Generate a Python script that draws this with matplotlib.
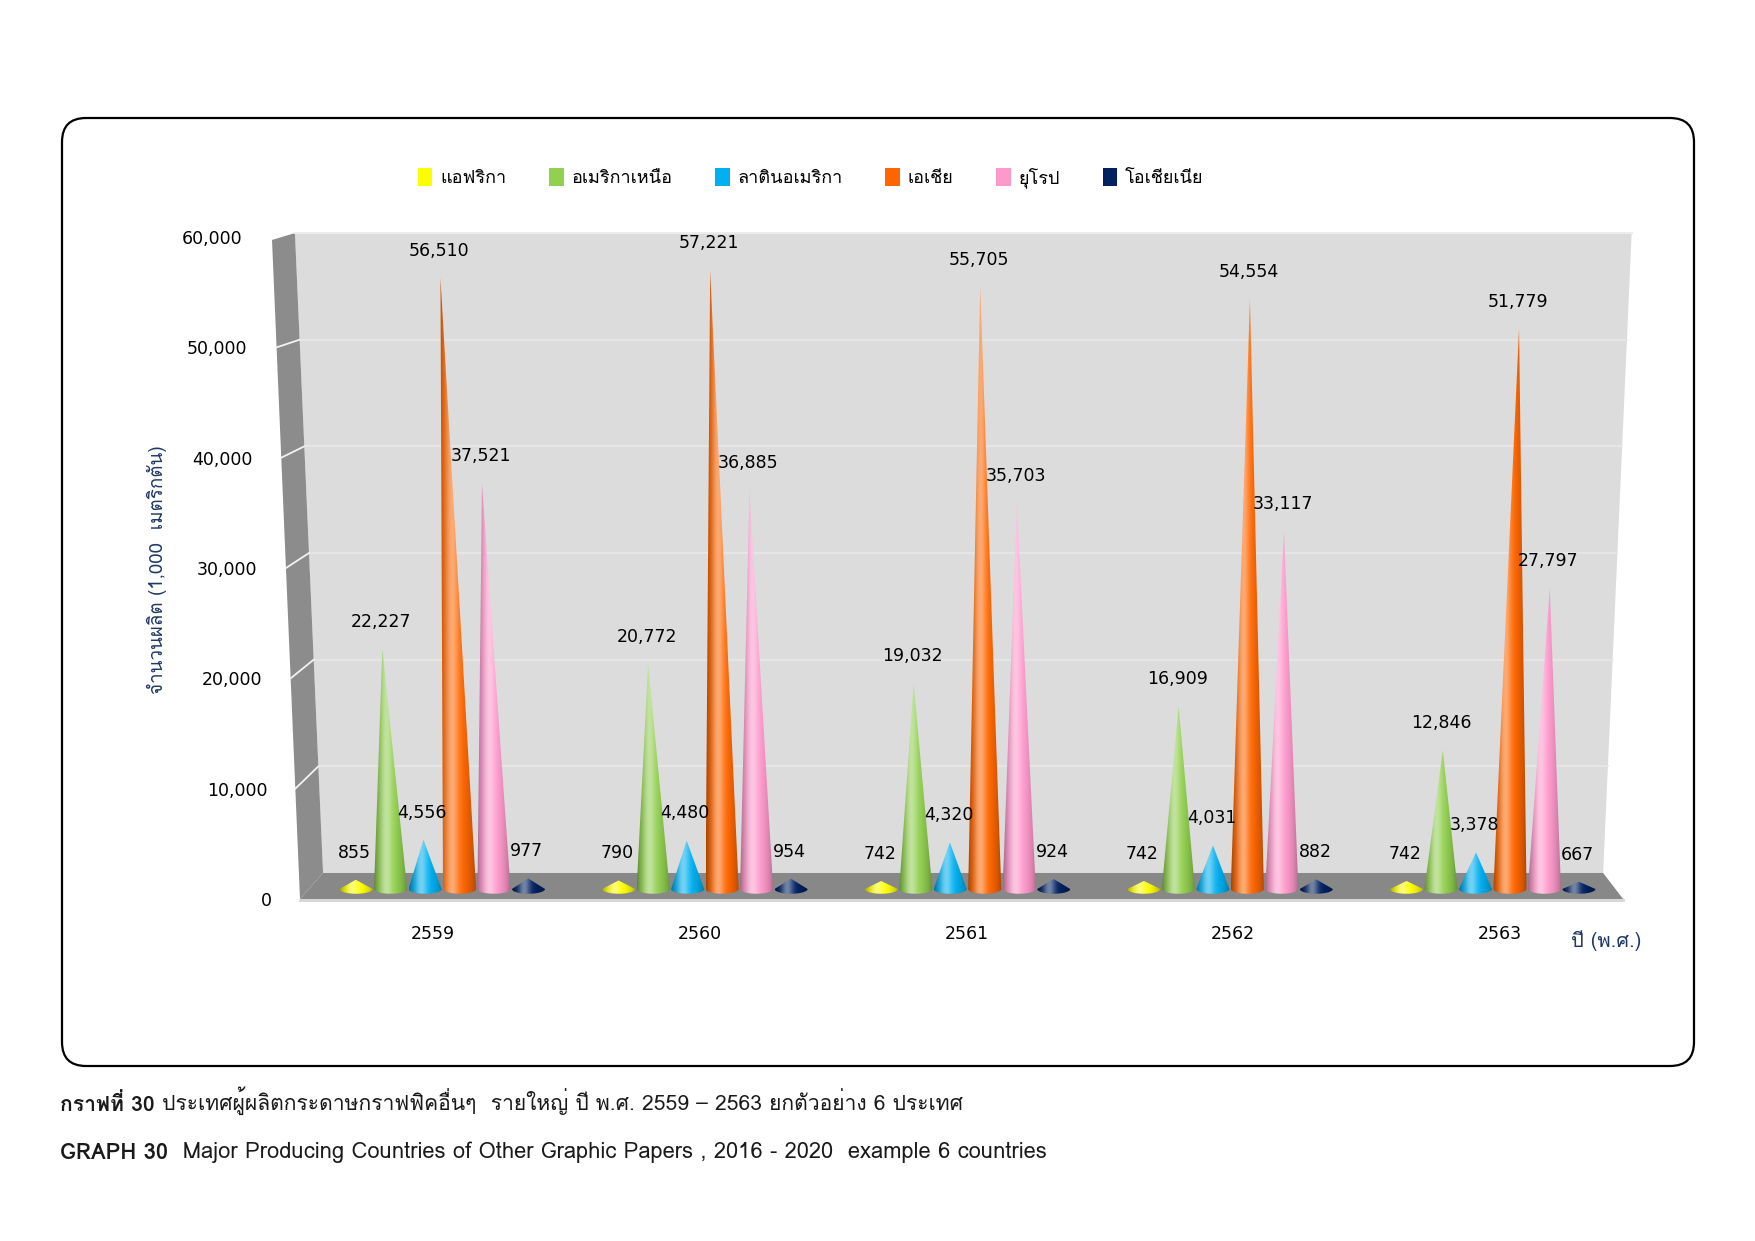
import numpy as np
import matplotlib
matplotlib.use("Agg")
import matplotlib.pyplot as plt
from matplotlib import font_manager as fm
from matplotlib import ft2font
from matplotlib.colors import to_rgb
from matplotlib.patches import Polygon, FancyBboxPatch, Patch
from matplotlib.transforms import ScaledTranslation

# data (1,000 metric tons)
years = ["2559", "2560", "2561", "2562", "2563"]
regions = ["แอฟริกา", "อเมริกาเหนือ", "ลาตินอเมริกา", "เอเชีย", "ยุโรป", "โอเชียเนีย"]
africa = [855, 790, 742, 742, 742]
north_america = [22227, 20772, 19032, 16909, 12846]
latin_america = [4556, 4480, 4320, 4031, 3378]
asia = [56510, 57221, 55705, 54554, 51779]
europe = [37521, 36885, 35703, 33117, 27797]
oceania = [977, 954, 924, 882, 667]
series = [africa, north_america, latin_america, asia, europe, oceania]
colors = ["#ffff00", "#92d050", "#00b0f0", "#ff6600", "#ff99cc", "#002060"]
y_ticks = [0, 10000, 20000, 30000, 40000, 50000, 60000]

NAVY = "#1f3864"


def thai_family():
    seen = set()
    for f in fm.fontManager.ttflist:
        if f.name in seen:
            continue
        seen.add(f.name)
        try:
            cmap = ft2font.FT2Font(f.fname).get_charmap()
        except Exception:
            continue
        if 0x0E01 in cmap and 0x0E40 in cmap and 0x0E49 in cmap:
            return f.name
    return None


THAI = thai_family()
FAM = [THAI, "DejaVu Sans"] if THAI else ["DejaVu Sans"]
plt.rcParams["font.family"] = ["DejaVu Sans"]

W, H = 1755, 1241
fig = plt.figure(figsize=(W / 100, H / 100), dpi=100)

# background axes in pixel units for the frame box and captions
bg = fig.add_axes([0, 0, 1, 1], zorder=0)
bg.set_xlim(0, W)
bg.set_ylim(H, 0)
bg.axis("off")
bg.add_patch(FancyBboxPatch((62, 118), 1632, 948,
                            boxstyle="round,pad=0,rounding_size=24",
                            facecolor="white", edgecolor="black", linewidth=1.6))

# main chart axes: front plane of the 3D box
ax = fig.add_axes([300 / W, 1 - 899 / H, 1333 / W, 662 / H], zorder=1)
ax.set_facecolor("none")
for s in ax.spines.values():
    s.set_visible(False)

# 3D walls (axes fractions)
fb = 0.0393          # back floor line
ft = 1.006           # top of back wall
xbl, xtl = 0.0173, -0.0038    # back-left edge, bottom / top
xbr, xtr = 0.9776, 0.999      # back-right edge, bottom / top
side = [(-0.021, 0.9955), (xtl, ft), (xbl, fb), (0, 0)]
floor = [(0, 0), (xbl, fb), (xbr, fb), (0.9926, 0)]
back = [(xtl, ft), (xtr, ft), (xbr, fb), (xbl, fb)]
ax.add_patch(Polygon(back, closed=True, transform=ax.transAxes, facecolor="#dcdcdc",
                     edgecolor="none", clip_on=False, zorder=0))
ax.add_patch(Polygon(side, closed=True, transform=ax.transAxes, facecolor="#8c8c8c",
                     edgecolor="none", clip_on=False, zorder=0.5))
ax.add_patch(Polygon(floor, closed=True, transform=ax.transAxes, facecolor="#888888",
                     edgecolor="none", clip_on=False, zorder=0.5))
ax.plot([0, 0.9926], [-0.002, -0.002], transform=ax.transAxes, color="#d4d4d4",
        lw=2, clip_on=False, zorder=0.6)
ax.plot([xtl, xtr], [ft, ft], transform=ax.transAxes, color="#ececec",
        lw=1.5, clip_on=False, zorder=0.6)

for v in y_ticks[1:-1]:
    r = v / 60000
    fyb = fb + r * (ft - fb)
    xl = xbl + r * (xtl - xbl)
    xr = xbr + r * (xtr - xbr)
    ax.plot([xl, xr], [fyb, fyb], transform=ax.transAxes, color="#e8e8e8",
            lw=1.2, clip_on=False, zorder=0.2)
    ax.plot([-0.021 * r, xl], [r, fyb], transform=ax.transAxes, color="#f2f2f2",
            lw=1.3, clip_on=False, zorder=0.7)


def cone_image(color, n=80):
    rgb = np.array(to_rgb(color))
    t = np.linspace(0, 1, n)
    light = np.exp(-((t - 0.36) / 0.18) ** 2)
    dark = 0.62 + 0.38 * np.sin(np.pi * t) ** 0.6
    col = rgb[None, :] * dark[:, None]
    col = col + (1 - col) * 0.45 * light[:, None]
    return np.clip(col, 0, 1)[None, :, :]


BASE = 906        # cone bases sit slightly behind the front edge
DEPTH_Y = 0.98
CONE_W = 0.124
ELL_H = 430
STEP = 0.1313
XC0 = 2.25        # horizontal perspective centre
XV = 2.69         # tips lean away from this x
LEAN = 0.0293


def draw_cone(xc, value, color, z):
    y0 = BASE
    y1 = BASE + value * DEPTH_Y
    xt = xc + (xc - XV) * LEAN * value / 60000
    hw = CONE_W / 2
    th = np.linspace(0, np.pi, 40)
    verts = [(xc - hw, y0), (xt, y1), (xc + hw, y0)]
    verts += list(zip(xc + hw * np.cos(th), y0 - ELL_H * np.sin(th)))
    poly = Polygon(verts, closed=True, transform=ax.transData)
    x_lo = min(xc - hw, xt - 0.01)
    x_hi = max(xc + hw, xt + 0.01)
    im = ax.imshow(cone_image(color), extent=[x_lo, x_hi, y0 - ELL_H, y1],
                   aspect="auto", interpolation="bicubic", zorder=z)
    im.set_clip_path(poly)
    return xt, y1


for i, (vals, col) in enumerate(zip(series, colors)):
    for j, v in enumerate(vals):
        x = j + (i - 2.5) * STEP
        x = XC0 + (x - XC0) * 0.985
        tip = draw_cone(x, v, col, 2 + i * 0.01)
        ax.annotate(f"{v:,}", tip, xytext=(-1, 19.5), textcoords="offset points",
                    ha="center", va="center", fontsize=12.5, color="black", zorder=5)

ax.set_xlim(-0.5, 4.5)
ax.set_ylim(0, 60000)
ax.set_xticks(range(len(years)), years)
ax.set_yticks(y_ticks, [f"{v:,}" for v in y_ticks])
ax.tick_params(axis="x", length=0, pad=19, labelsize=12.5)
ax.tick_params(axis="y", length=0, pad=20, labelsize=12.5)
for v, tick in zip(y_ticks, ax.yaxis.get_major_ticks()):
    off = ScaledTranslation(-v / 10000 * 0.05, 0, fig.dpi_scale_trans)
    tick.label1.set_transform(tick.label1.get_transform() + off)

# axis titles
bg.text(157, 570, "จำนวนผลิต (1,000  เมตริกตัน)", rotation=90, ha="center", va="center",
        fontsize=13.5, color=NAVY, family=FAM)
bg.text(1606, 941, "ปี (พ.ศ.)", ha="center", va="center", fontsize=14.5,
        color=NAVY, family=FAM)

# legend
handles = [Patch(facecolor=c, edgecolor="none") for c in colors]
fig.legend(handles, regions, loc="center", bbox_to_anchor=(0.462, 0.857), ncol=6,
           frameon=False, prop={"family": FAM, "size": 13}, handlelength=0.8,
           handleheight=1.15, handletextpad=0.45, columnspacing=2.35)

# captions
CAP = "#1a1a1a"
t1 = bg.text(60, 1104, "กราฟที่ 30", fontweight="bold", va="center", ha="left",
             fontsize=15.2, family=FAM, color=CAP)
bg.annotate(" ประเทศผู้ผลิตกระดาษกราฟฟิคอื่นๆ  รายใหญ่ ปี พ.ศ. 2559 – 2563 ยกตัวอย่าง 6 ประเทศ",
            xy=(1, 0), xycoords=t1, va="bottom", ha="left", fontsize=15.2,
            family=FAM, color=CAP)
t2 = bg.text(60, 1153, "GRAPH 30", fontweight="bold", va="center", ha="left",
             fontsize=15.8, family=FAM, color=CAP)
bg.annotate("  Major Producing Countries of Other Graphic Papers , 2016 - 2020  example 6 countries",
            xy=(1, 0), xycoords=t2, va="bottom", ha="left", fontsize=15.8,
            family=FAM, color=CAP)

fig.savefig("out.png", dpi=100)
